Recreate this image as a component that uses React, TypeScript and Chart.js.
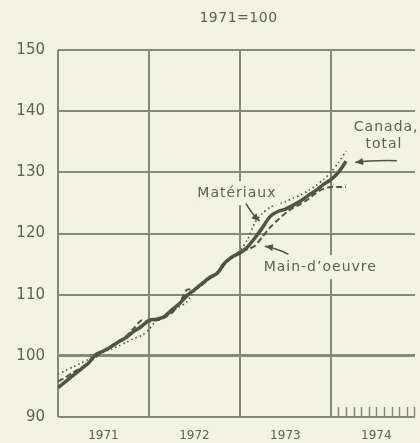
import React, { useEffect, useRef } from "react";
import { Chart, registerables } from "chart.js";

Chart.register(...registerables);

// Month index: 0 = January 1971
const months = [
  0, 1, 2, 3, 4, 5, 6, 7, 8, 9, 10, 11, 12, 13, 14, 15, 16, 17, 18, 19,
  20, 21, 22, 23, 24, 25, 26, 27, 28, 29, 30, 31, 32, 33, 34, 35, 36, 37, 38,
];

const canadaTotal = [
  94.8, 95.8, 96.8, 97.8, 98.8, 100.2, 100.8, 101.5, 102.3, 103.0, 104.0, 104.8,
  105.8, 106.0, 106.4, 107.5, 108.5, 109.8, 110.8, 111.8, 112.8, 113.5, 115.2, 116.2,
  116.8, 117.8, 119.3, 121.0, 122.8, 123.6, 124.0, 124.6, 125.3, 126.2, 127.0, 128.0,
  128.8, 130.0, 131.8,
];

const materiaux = [
  97.0, 97.6, 98.2, 98.8, 99.4, 100.0, 100.6, 101.1, 101.6, 102.2, 102.8, 103.3,
  104.3, 105.8, 106.3, 107.2, 108.0, 108.8, 110.6, 111.6, 112.6, 113.6, 115.0, 116.0,
  117.2, 119.0, 121.8, 123.3, 124.3, 124.8, 125.2, 125.8, 126.3, 127.0, 127.8, 128.8,
  130.0, 131.6, 133.5,
];

const mainOeuvre = [
  95.8, 96.5, 97.3, 98.0, 98.8, 99.8, 100.8, 101.6, 102.3, 103.2, 104.5, 105.8,
  105.6, 105.8, 106.2, 107.0, 108.5, 110.8, 110.8, 111.6, 112.6, 113.4, 115.0, 116.2,
  117.0, 117.4, 118.0, 119.5, 121.0, 122.2, 123.3, 124.2, 124.8, 125.6, 126.6, 127.3,
  127.6, 127.6, 127.6,
];

const yearLabels = ["1971", "1972", "1973", "1974"];
const yTickValues = [90, 100, 110, 120, 130, 140, 150];
const titleText = "1971=100";
const seriesNames = ["Canada, total", "Matériaux", "Main-d’oeuvre"];

const BG = "#f3f3e3";
const GRID = "#848978";
const TEXT = "#5c6055";
const INK = "#4e5447";

const FONT = "'DejaVu Sans', sans-serif";

type Pt = [number, number];

function drawArrow(ctx: CanvasRenderingContext2D, from: Pt, ctrl: Pt, to: Pt) {
  ctx.save();
  ctx.strokeStyle = INK;
  ctx.fillStyle = INK;
  ctx.lineWidth = 1.5;
  ctx.beginPath();
  ctx.moveTo(from[0], from[1]);
  ctx.quadraticCurveTo(ctrl[0], ctrl[1], to[0], to[1]);
  ctx.stroke();
  const ang = Math.atan2(to[1] - ctrl[1], to[0] - ctrl[0]);
  const L = 8;
  const W = 3.5;
  ctx.beginPath();
  ctx.moveTo(to[0], to[1]);
  ctx.lineTo(
    to[0] - L * Math.cos(ang) + W * Math.sin(ang),
    to[1] - L * Math.sin(ang) - W * Math.cos(ang)
  );
  ctx.lineTo(
    to[0] - L * Math.cos(ang) - W * Math.sin(ang),
    to[1] - L * Math.sin(ang) + W * Math.cos(ang)
  );
  ctx.closePath();
  ctx.fill();
  ctx.restore();
}

const annotationPlugin = {
  id: "annotations",
  afterDatasetsDraw(chart: any) {
    const ctx: CanvasRenderingContext2D = chart.ctx;
    const xs = chart.scales.x;
    const ys = chart.scales.y;
    const P = (m: number, v: number): Pt => [xs.getPixelForValue(m), ys.getPixelForValue(v)];
    const area = chart.chartArea;

    // Title
    ctx.save();
    ctx.font = `14px ${FONT}`;
    (ctx as any).letterSpacing = "0.5px";
    ctx.fillStyle = TEXT;
    ctx.textAlign = "center";
    ctx.textBaseline = "middle";
    ctx.fillText(titleText, (area.left + area.right) / 2 + 2, 18);
    ctx.restore();

    // Monthly ticks for 1974
    ctx.save();
    ctx.strokeStyle = GRID;
    ctx.lineWidth = 1.5;
    for (let m = 37; m <= 47; m++) {
      const x = Math.round(xs.getPixelForValue(m)) + 0.5;
      if (x > area.right) break;
      ctx.beginPath();
      ctx.moveTo(x, area.bottom);
      ctx.lineTo(x, area.bottom - 10);
      ctx.stroke();
    }
    ctx.restore();

    const label = (text: string, m: number, v: number, clear: boolean) => {
      const [x, y] = P(m, v);
      ctx.save();
      ctx.font = `14px ${FONT}`;
      (ctx as any).letterSpacing = "1px";
      const w = ctx.measureText(text).width;
      if (clear) {
        ctx.fillStyle = BG;
        ctx.fillRect(x - w / 2 - 4, y - 12, w + 8, 24);
      }
      ctx.fillStyle = TEXT;
      ctx.textAlign = "center";
      ctx.textBaseline = "middle";
      ctx.fillText(text, x, y);
      ctx.restore();
    };

    label("Canada,", 43.3, 137.3, true);
    label("total", 43.0, 134.5, false);
    label(seriesNames[1], 23.6, 126.6, true);
    label(seriesNames[2], 34.6, 114.5, true);

    drawArrow(ctx, P(44.7, 131.9), P(41.5, 132.0), P(39.2, 131.6));
    drawArrow(ctx, P(24.8, 124.9), P(25.6, 123.2), P(26.6, 122.0));
    drawArrow(ctx, P(30.4, 116.6), P(28.8, 117.6), P(27.3, 117.9));
  },
};

export default function App() {
  const canvasRef = useRef<HTMLCanvasElement | null>(null);

  useEffect(() => {
    if (!canvasRef.current) return;
    const mk = (arr: number[]) => arr.map((v, i) => ({ x: months[i], y: v }));
    const chart = new Chart(canvasRef.current, {
      type: "line",
      data: {
        datasets: [
          {
            label: seriesNames[0],
            data: mk(canadaTotal),
            borderColor: INK,
            borderWidth: 3.5,
            pointRadius: 0,
            tension: 0.25,
            fill: false,
          },
          {
            label: seriesNames[1],
            data: mk(materiaux),
            borderColor: INK,
            borderWidth: 1.6,
            borderDash: [1.5, 3],
            pointRadius: 0,
            tension: 0.25,
            fill: false,
          },
          {
            label: seriesNames[2],
            data: mk(mainOeuvre),
            borderColor: INK,
            borderWidth: 2,
            borderDash: [6, 3],
            pointRadius: 0,
            tension: 0.25,
            fill: false,
          },
        ],
      },
      options: {
        responsive: false,
        animation: false,
        layout: { padding: { top: 50, right: 5, left: 0, bottom: 0 } },
        plugins: {
          legend: { display: false },
          tooltip: { enabled: false },
          title: { display: false },
        },
        scales: {
          x: {
            type: "linear",
            min: 0,
            max: 47.1,
            afterBuildTicks: (scale: any) => {
              scale.ticks = [0, 6, 12, 18, 24, 30, 36, 42].map((v) => ({ value: v }));
            },
            afterFit: (scale: any) => {
              scale.height = 26;
            },
            ticks: {
              autoSkip: false,
              maxRotation: 0,
              padding: 12,
              color: TEXT,
              font: { family: FONT, size: 12 },
              callback: (v: any) => {
                const n = Number(v);
                return n % 12 === 6 ? yearLabels[(n - 6) / 12] : "";
              },
            },
            grid: {
              drawTicks: false,
              lineWidth: 2,
              color: (c: any) =>
                c.tick && c.tick.value % 12 === 0 ? GRID : "rgba(0,0,0,0)",
            },
            border: { display: false },
          },
          y: {
            type: "linear",
            min: 90,
            max: 150,
            afterBuildTicks: (scale: any) => {
              scale.ticks = yTickValues.map((v) => ({ value: v }));
            },
            afterFit: (scale: any) => {
              scale.width = 58;
            },
            ticks: {
              padding: 13,
              color: TEXT,
              font: { family: FONT, size: 15 },
            },
            grid: {
              drawTicks: false,
              color: GRID,
              lineWidth: (c: any) => (c.tick && c.tick.value === 100 ? 3 : 2),
            },
            border: { display: false },
          },
        },
      },
      plugins: [annotationPlugin],
    } as any);
    return () => chart.destroy();
  }, []);

  return (
    <div
      style={{
        position: "absolute",
        left: 0,
        top: 0,
        width: 420,
        height: 443,
        background: BG,
      }}
    >
      <canvas ref={canvasRef} width={420} height={443} />
    </div>
  );
}
